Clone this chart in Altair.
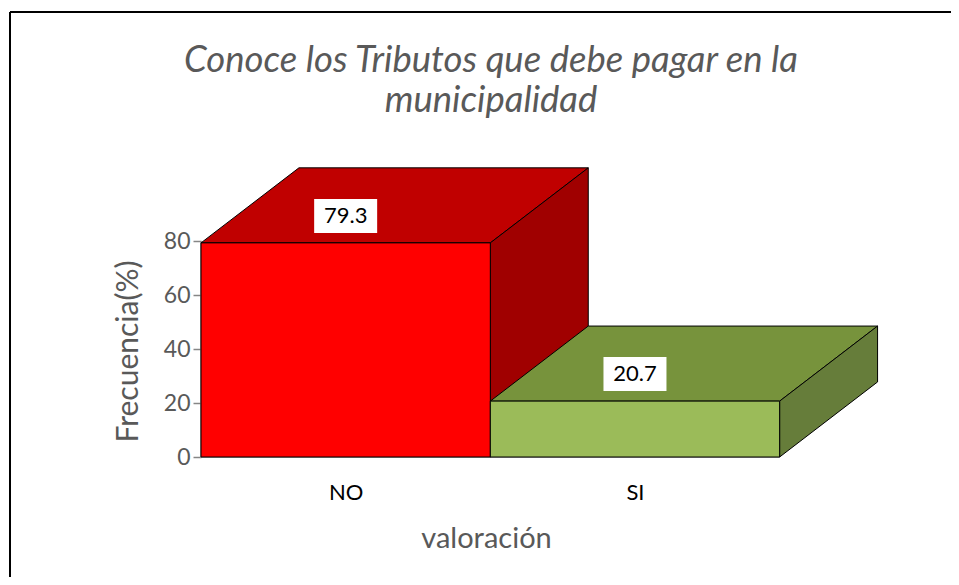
import altair as alt
import pandas as pd

# ---- data ----
categories = ["NO", "SI"]
values = [79.3, 20.7]
front_colors = ["#FF0000", "#9BBB59"]
top_colors = ["#C00000", "#77933C"]
side_colors = ["#A00000", "#667D3A"]
y_ticks = [0, 20, 40, 60, 80]
title_lines = ["Conoce los Tributos que debe pagar en la", "municipalidad"]

# ---- style constants ----
DX = 0.3385   # 3-D depth along x (data units)
DY = 27.8     # 3-D depth along y (data units)
FONT = "Lato"
GREY = "#595959"
AXIS_GREY = "#868686"

x_scale = alt.Scale(domain=[0, 2.34], nice=False, zero=False)
y_scale = alt.Scale(domain=[0, 110], nice=False)

label_expr = " : ".join(
    [f"datum.value < {i + 1} ? '{c}'" for i, c in enumerate(categories[:-1])]
) + f" : '{categories[-1]}'"

x_axis = alt.Axis(
    values=[i + 0.5 for i in range(len(categories))],
    labelExpr=label_expr,
    domain=False, ticks=False, grid=False,
    labelFont=FONT, labelFontSize=22, labelColor="#000000", labelPadding=25,
    title="valoración", titleFont=FONT, titleFontSize=29, titleFontWeight="normal",
    titleColor=GREY, titleX=285, titleY=90, titleAlign="center",
    titleBaseline="alphabetic", titleAnchor="start",
)
y_axis = alt.Axis(
    values=y_ticks, domain=False, grid=False,
    tickColor=AXIS_GREY, tickWidth=1.5, tickSize=8,
    labelFont=FONT, labelFontSize=23, labelColor=GREY, labelPadding=3,
    title="Frecuencia(%)", titleFont=FONT, titleFontSize=30, titleFontWeight="normal",
    titleColor=GREY, titleAngle=270, titleX=-73, titleY=191,
    titleAlign="center", titleBaseline="middle", titleAnchor="start",
)


def X(field="x"):
    return alt.X(f"{field}:Q", scale=x_scale, axis=x_axis)


def Y(field="y"):
    return alt.Y(f"{field}:Q", scale=y_scale, axis=y_axis)


layers = []

# floor line and y axis line
floor = pd.DataFrame({"x": [0], "x2": [len(categories)], "y": [0]})
layers.append(
    alt.Chart(floor).mark_rule(color=AXIS_GREY, strokeWidth=1.5).encode(
        x=X(), x2="x2:Q", y=Y(),
    )
)
yline = pd.DataFrame({"x": [0], "y": [y_ticks[0]], "y2": [y_ticks[-1]]})
layers.append(
    alt.Chart(yline).mark_rule(color=AXIS_GREY, strokeWidth=1.5).encode(
        x=X(), y=Y(), y2="y2:Q",
    )
)

for i, (cat, v) in enumerate(zip(categories, values)):
    x0, x1 = i, i + 1
    top = pd.DataFrame({"y": [v, v + DY], "x": [x0, x0 + DX], "x2": [x1, x1 + DX]})
    layers.append(
        alt.Chart(top).mark_area(orient="horizontal", fill=top_colors[i],
                                 stroke="black", strokeWidth=1, opacity=1).encode(
            y=Y(), x=X(), x2="x2:Q",
        )
    )
    side = pd.DataFrame({"x": [x1, x1 + DX], "y": [0, DY], "y2": [v, v + DY]})
    layers.append(
        alt.Chart(side).mark_area(orient="vertical", fill=side_colors[i],
                                  stroke="black", strokeWidth=1, opacity=1).encode(
            x=X(), y=Y(), y2="y2:Q",
        )
    )
    front = pd.DataFrame({"x": [x0], "x2": [x1], "y": [0], "y2": [v]})
    layers.append(
        alt.Chart(front).mark_rect(fill=front_colors[i], stroke="black",
                                   strokeWidth=1).encode(
            x=X(), x2="x2:Q", y=Y(), y2="y2:Q",
        )
    )

labels = pd.DataFrame({
    "x": [i + 0.5 for i in range(len(categories))],
    "y": [v + 10 for v in values],
    "label": [f"{v:.1f}" for v in values],
})
box_shape = "M-1,-0.54L1,-0.54L1,0.54L-1,0.54Z"
layers.append(
    alt.Chart(labels).mark_point(shape=box_shape, size=63 * 63, filled=True,
                                 fill="white", opacity=1, strokeWidth=0).encode(
        x=X(), y=Y(),
    )
)
layers.append(
    alt.Chart(labels).mark_text(font=FONT, fontSize=22, color="#000000").encode(
        x=X(), y=Y(), text="label:N",
    )
)

# chart title (drawn as text so it is not pushed up by the frame)
dummy = pd.DataFrame({"a": [0]})
layers.append(
    alt.Chart(dummy).mark_text(
        text=title_lines, font=FONT, fontStyle="italic", fontSize=36.5,
        color=GREY, align="center", baseline="alphabetic", lineHeight=40,
    ).encode(x=alt.value(290), y=alt.value(-88))
)

# outer frame (decorative)
layers.append(
    alt.Chart(dummy).mark_rule(color="#000000", strokeWidth=2).encode(
        x=alt.value(-191), x2=alt.value(750), y=alt.value(-148)
    )
)
layers.append(
    alt.Chart(dummy).mark_rule(color="#000000", strokeWidth=2).encode(
        x=alt.value(-191), y=alt.value(-148), y2=alt.value(417)
    )
)

chart = alt.layer(*layers).properties(
    width=677,
    height=297,
    padding={"left": 193, "top": 152, "right": 73, "bottom": 120},
    autosize=alt.AutoSizeParams(type="none"),
).configure_view(stroke=None)

chart.save("out.html", embed_options={"renderer": "svg", "actions": False})
